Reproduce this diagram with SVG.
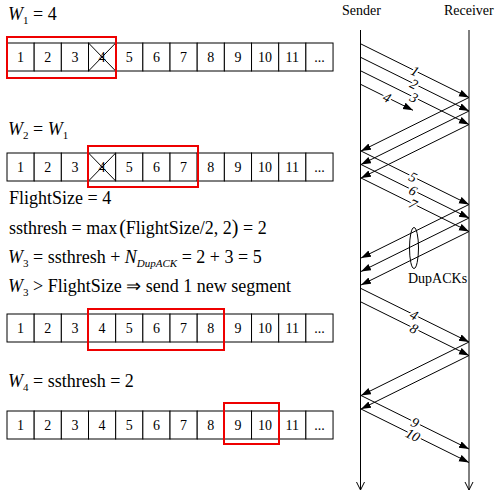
<svg xmlns="http://www.w3.org/2000/svg" width="497" height="492" viewBox="0 0 497 492">
<style>
text{font-family:"Liberation Serif","Times New Roman",serif;fill:#000}
.eq{font-size:18px}
.it{font-style:italic}
.sub{font-size:11px}
.cell{fill:#fff;stroke:#000;stroke-width:1}
.num{font-size:14px;text-anchor:middle}
.win{fill:none;stroke:#e00;stroke-width:2}
.x{stroke:#000;stroke-width:1}
.ln{stroke:#000;stroke-width:1;fill:none}
.msg{stroke:#000;stroke-width:1;fill:none;marker-end:url(#ah)}
.lbl{font-size:14px;font-style:italic;text-anchor:middle;stroke:#fff;stroke-width:4;paint-order:stroke;stroke-linejoin:round}
.hdr{font-size:14px}
</style>
<defs>
<marker id="ah" markerUnits="userSpaceOnUse" markerWidth="11" markerHeight="8" refX="10" refY="3.5" orient="auto">
<path d="M0,0 L10,3.5 L0,7 z" fill="#000"/>
</marker>
<g id="strip" font-family="'Liberation Serif','Times New Roman',serif">
<rect class="cell" x="7" y="0" width="27.17" height="28"/>
<rect class="cell" x="34.17" y="0" width="27.17" height="28"/>
<rect class="cell" x="61.34" y="0" width="27.17" height="28"/>
<rect class="cell" x="88.51" y="0" width="27.17" height="28"/>
<rect class="cell" x="115.68" y="0" width="27.17" height="28"/>
<rect class="cell" x="142.85" y="0" width="27.17" height="28"/>
<rect class="cell" x="170.02" y="0" width="27.17" height="28"/>
<rect class="cell" x="197.19" y="0" width="27.17" height="28"/>
<rect class="cell" x="224.36" y="0" width="27.17" height="28"/>
<rect class="cell" x="251.53" y="0" width="27.17" height="28"/>
<rect class="cell" x="278.7" y="0" width="27.17" height="28"/>
<rect class="cell" x="305.87" y="0" width="27.17" height="28"/>
<text class="num" x="20.6" y="19">1</text>
<text class="num" x="47.8" y="19">2</text>
<text class="num" x="74.9" y="19">3</text>
<text class="num" x="102.1" y="19">4</text>
<text class="num" x="129.3" y="19">5</text>
<text class="num" x="156.4" y="19">6</text>
<text class="num" x="183.6" y="19">7</text>
<text class="num" x="210.8" y="19">8</text>
<text class="num" x="237.9" y="19">9</text>
<text class="num" x="265.1" y="19">10</text>
<text class="num" x="292.3" y="19">11</text>
<text class="num" x="319.5" y="19">...</text>
</g>
</defs>

<g id="row1">
<text class="eq" x="8" y="20"><tspan class="it">W</tspan><tspan class="sub" dy="4">1</tspan><tspan dy="-4"> = 4</tspan></text>
<use href="#strip" y="43"/>
<line class="x" x1="88.51" y1="43" x2="115.68" y2="71"/>
<line class="x" x1="115.68" y1="43" x2="88.51" y2="71"/>
<rect class="win" x="7" y="37" width="109" height="41"/>
</g>

<g id="row2">
<text class="eq" x="8" y="135"><tspan class="it">W</tspan><tspan class="sub" dy="4">2</tspan><tspan dy="-4"> = </tspan><tspan class="it">W</tspan><tspan class="sub" dy="4">1</tspan></text>
<use href="#strip" y="153"/>
<line class="x" x1="88.51" y1="153" x2="115.68" y2="181"/>
<line class="x" x1="115.68" y1="153" x2="88.51" y2="181"/>
<rect class="win" x="88" y="146" width="110" height="41"/>
</g>

<g id="equations">
<text class="eq" x="9" y="204">FlightSize = 4</text>
<text class="eq" x="9" y="234">ssthresh = max<tspan font-size="20" dx="2">(</tspan>FlightSize/2, 2<tspan font-size="20">)</tspan> = 2</text>
<text class="eq" x="8" y="263"><tspan class="it">W</tspan><tspan class="sub" dy="4">3</tspan><tspan dy="-4"> = ssthresh + </tspan><tspan class="it">N</tspan><tspan class="sub it" font-size="9" dy="4">DupACK</tspan><tspan dy="-4"> = 2 + 3 = 5</tspan></text>
<text class="eq" x="8" y="292"><tspan class="it">W</tspan><tspan class="sub" dy="4">3</tspan><tspan dy="-4"> &gt; FlightSize ⇒ send 1 new segment</tspan></text>
</g>

<g id="row3">
<use href="#strip" y="314"/>
<rect class="win" x="88" y="309" width="136" height="41"/>
</g>

<g id="row4">
<text class="eq" x="8" y="387"><tspan class="it">W</tspan><tspan class="sub" dy="4">4</tspan><tspan dy="-4"> = ssthresh = 2</tspan></text>
<use href="#strip" y="411"/>
<rect class="win" x="224" y="403" width="55" height="41"/>
</g>

<g id="sender">
<text class="hdr" x="342" y="15">Sender</text>
<line class="ln" x1="360.5" y1="30" x2="360.5" y2="490"/>
<polyline class="ln" points="356.5,482 360.5,490 364.5,482"/>
</g>
<g id="receiver">
<text class="hdr" x="444" y="15">Receiver</text>
<line class="ln" x1="469" y1="30" x2="469" y2="490"/>
<polyline class="ln" points="465,482 469,490 473,482"/>
</g>

<g id="connectors">
<line class="msg" x1="361" y1="44" x2="469" y2="97.5"/>
<line class="msg" x1="361" y1="57.5" x2="469" y2="111"/>
<line class="msg" x1="361" y1="71" x2="469" y2="124.5"/>
<line class="msg" x1="361" y1="84.5" x2="413" y2="110.3"/>
<line class="msg" x1="469" y1="97.5" x2="361" y2="151"/>
<line class="msg" x1="469" y1="111" x2="361" y2="164.5"/>
<line class="msg" x1="469" y1="124.5" x2="361" y2="178"/>
<line class="msg" x1="361" y1="151" x2="469" y2="204.5"/>
<line class="msg" x1="361" y1="164.5" x2="469" y2="218"/>
<line class="msg" x1="361" y1="178" x2="469" y2="231.5"/>
<line class="msg" x1="469" y1="204.5" x2="361" y2="258"/>
<line class="msg" x1="469" y1="218" x2="361" y2="271.5"/>
<line class="msg" x1="469" y1="231.5" x2="361" y2="285"/>
<line class="msg" x1="361" y1="288.5" x2="469" y2="342"/>
<line class="msg" x1="361" y1="302" x2="469" y2="355.5"/>
<line class="msg" x1="469" y1="342" x2="361" y2="395.5"/>
<line class="msg" x1="469" y1="355.5" x2="361" y2="409"/>
<line class="msg" x1="361" y1="395.5" x2="469" y2="449"/>
<line class="msg" x1="361" y1="409" x2="469" y2="462.5"/>
</g>

<g id="labels">
<text class="lbl" transform="translate(415,70.8) rotate(26.35)" y="5">1</text>
<text class="lbl" transform="translate(414,83.8) rotate(26.35)" y="5">2</text>
<text class="lbl" transform="translate(414,97.3) rotate(26.35)" y="5">3</text>
<text class="lbl" transform="translate(387,97.4) rotate(26.35)" y="5">4</text>
<text class="lbl" transform="translate(413,176.8) rotate(26.35)" y="5">5</text>
<text class="lbl" transform="translate(413,190.3) rotate(26.35)" y="5">6</text>
<text class="lbl" transform="translate(413,203.8) rotate(26.35)" y="5">7</text>
<text class="lbl" transform="translate(414,314.8) rotate(26.35)" y="5">4</text>
<text class="lbl" transform="translate(414,328.3) rotate(26.35)" y="5">8</text>
<text class="lbl" transform="translate(415,422.3) rotate(26.35)" y="5">9</text>
<text class="lbl" transform="translate(413,434.8) rotate(26.35)" y="5">10</text>
</g>

<g id="dupacks">
<ellipse class="ln" cx="414" cy="248" rx="4.5" ry="20.5"/>
<text class="hdr" x="408" y="283">DupACKs</text>
</g>
</svg>
